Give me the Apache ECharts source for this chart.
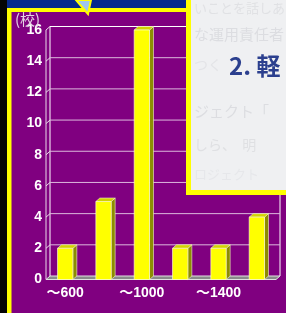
<!DOCTYPE html>
<html>
<head>
<meta charset="utf-8">
<script src="https://cdn.jsdelivr.net/npm/echarts@6/dist/echarts.min.js"></script>
<style>
  html, body { margin: 0; padding: 0; background: #800080; }
  #chart { width: 286px; height: 313px; }
</style>
</head>
<body>
<div id="chart"></div>
<script>
// data
const categories = ['〜600', '〜800', '〜1000', '〜1200', '〜1400', '〜1600'];
const counts = [2, 5, 16, 2, 2, 4];
const yTicks = [0, 2, 4, 6, 8, 10, 12, 14, 16];

// 3d depth offset (front plane -> back wall)
const DX = 4;
const DY = -3.5;

const myChart = echarts.init(document.getElementById('chart'));

const labelFont = "'Liberation Sans', 'Noto Sans CJK JP', sans-serif";

const option = {
  backgroundColor: '#800080',
  animation: false,
  grid: {
    // front plane of the box
    left: 46,
    right: 10,
    top: 30,
    bottom: 33.5,
  },
  xAxis: {
    type: 'category',
    data: categories,
    axisLine: { show: false },
    axisTick: { show: false },
    axisLabel: {
      interval: 1,
      margin: 7,
      color: '#ffffff',
      fontWeight: 'bold',
      fontSize: 14,
      fontFamily: labelFont,
    },
  },
  yAxis: {
    type: 'value',
    min: 0,
    max: 16,
    interval: 2,
    axisLine: { show: false },
    axisTick: { show: false },
    splitLine: { show: false },
    axisLabel: {
      margin: 4,
      color: '#ffffff',
      fontWeight: 'bold',
      fontSize: 14,
      fontFamily: labelFont,
    },
  },
  series: [
    {
      // back wall grid lines, floor and wall edges
      type: 'custom',
      z: 1,
      silent: true,
      data: yTicks.map(function (v) { return [0, v]; }),
      renderItem: function (params, api) {
        const cs = params.coordSys;
        const xL = cs.x;
        const xR = cs.x + cs.width;
        const v = api.value(1);
        const y = api.coord([0, v])[1];
        const children = [];
        const lineCol = '#dcb8dc';
        if (v === 0) {
          const yTop = api.coord([0, 16])[1];
          children.push({
            type: 'polygon',
            shape: { points: [[xL, y], [xR, y], [xR + DX, y + DY], [xL + DX, y + DY]] },
            style: { fill: '#8a8a8a', stroke: '#e0e0e0', lineWidth: 1 },
          });
          children.push({
            type: 'line',
            shape: { x1: xL, y1: y, x2: xL, y2: yTop },
            style: { stroke: '#e8d8e8', lineWidth: 1 },
          });
          children.push({
            type: 'line',
            shape: { x1: xL + DX, y1: y + DY, x2: xL + DX, y2: yTop + DY },
            style: { stroke: '#ffffff', lineWidth: 1 },
          });
          children.push({
            type: 'line',
            shape: { x1: xR + DX, y1: y + DY, x2: xR + DX, y2: yTop + DY },
            style: { stroke: '#ffffff', lineWidth: 1 },
          });
        } else {
          children.push({
            type: 'line',
            shape: { x1: xL + DX, y1: y + DY, x2: xR + DX, y2: y + DY },
            style: { stroke: v === 16 ? '#ffffff' : lineCol, lineWidth: 1 },
          });
          children.push({
            type: 'line',
            shape: { x1: xL, y1: y, x2: xL + DX, y2: y + DY },
            style: { stroke: '#e8d8e8', lineWidth: 1 },
          });
        }
        return { type: 'group', children: children };
      },
    },
    {
      // 3d looking bars
      name: '校数',
      type: 'custom',
      z: 3,
      data: counts.map(function (c, i) { return [i, c]; }),
      renderItem: function (params, api) {
        const top = api.coord([api.value(0), api.value(1)]);
        const base = api.coord([api.value(0), 0]);
        const bw = api.size([1, 0])[0] * 0.4;
        const x0 = top[0] - bw / 2;
        const x1 = top[0] + bw / 2;
        const y0 = top[1];
        const y1 = base[1];
        return {
          type: 'group',
          children: [
            {
              type: 'polygon',
              shape: { points: [[x1, y0], [x1 + DX, y0 + DY], [x1 + DX, y1 + DY], [x1, y1]] },
              style: { fill: '#8c8c00', stroke: '#f0f0d0', lineWidth: 0.6 },
            },
            {
              type: 'polygon',
              shape: { points: [[x0, y0], [x0 + DX, y0 + DY], [x1 + DX, y0 + DY], [x1, y0]] },
              style: { fill: '#d2d200', stroke: '#f0f0d0', lineWidth: 0.6 },
            },
            {
              type: 'rect',
              shape: { x: x0, y: y0, width: bw, height: y1 - y0 },
              style: { fill: '#ffff00', stroke: '#ffffe0', lineWidth: 0.6 },
            },
          ],
        };
      },
    },
  ],
  graphic: {
    elements: [
      // slide frame
      { type: 'rect', z: 0, shape: { x: 0, y: 0, width: 7, height: 313 }, style: { fill: '#050505' } },
      { type: 'rect', z: 0, shape: { x: 7, y: 0, width: 180, height: 8 }, style: { fill: '#062a8c' } },
      { type: 'rect', z: 0, shape: { x: 7, y: 8, width: 180, height: 4 }, style: { fill: '#ffff00' } },
      { type: 'rect', z: 0, shape: { x: 7, y: 8, width: 4.5, height: 305 }, style: { fill: '#ffff00' } },
      {
        type: 'polygon',
        z: 1,
        shape: { points: [[76, 0], [91, 0], [88, 14]] },
        style: { fill: '#9ec5ee', stroke: '#ffff00', lineWidth: 2 },
      },
      // unit of the value axis
      {
        type: 'text', z: 5, x: 15, y: 12,
        style: { text: '(校)', fill: '#e4d4e4', font: "15px 'Noto Sans CJK JP'" },
      },
      // overlapping picture in the top right
      { type: 'rect', z: 100, shape: { x: 186, y: 0, width: 100, height: 195 }, style: { fill: '#ffff00' } },
      { type: 'rect', z: 101, shape: { x: 191, y: 0, width: 95, height: 190 }, style: { fill: '#eff0f2' } },
      {
        type: 'text', z: 102, x: 194, y: 2,
        style: { text: 'いことを話しあ', fill: '#e0e1e4', font: "13px 'Noto Sans CJK JP'" },
      },
      {
        type: 'text', z: 102, x: 194, y: 27,
        style: { text: 'な運用責任者', fill: '#dcdde1', font: "15px 'Noto Sans CJK JP'" },
      },
      {
        type: 'text', z: 102, x: 194, y: 58,
        style: { text: 'つく', fill: '#e3e4e7', font: "14px 'Noto Sans CJK JP'" },
      },
      {
        type: 'text', z: 102, x: 229, y: 54,
        style: { text: '2. 軽', fill: '#2b3f8e', font: "bold 24px 'Noto Sans CJK JP'" },
      },
      {
        type: 'text', z: 102, x: 194, y: 104,
        style: { text: 'ジェクト「', fill: '#dcdde1', font: "15px 'Noto Sans CJK JP'" },
      },
      {
        type: 'text', z: 102, x: 194, y: 138,
        style: { text: 'しら、  明', fill: '#dfe0e3', font: "14px 'Noto Sans CJK JP'" },
      },
      {
        type: 'text', z: 102, x: 194, y: 168,
        style: { text: 'ロジェクト', fill: '#e6e7ea', font: "13px 'Noto Sans CJK JP'" },
      },
    ],
  },
};

myChart.setOption(option, true);

window.addEventListener('resize', () => {
  myChart.resize();
});
</script>
</body>
</html>
